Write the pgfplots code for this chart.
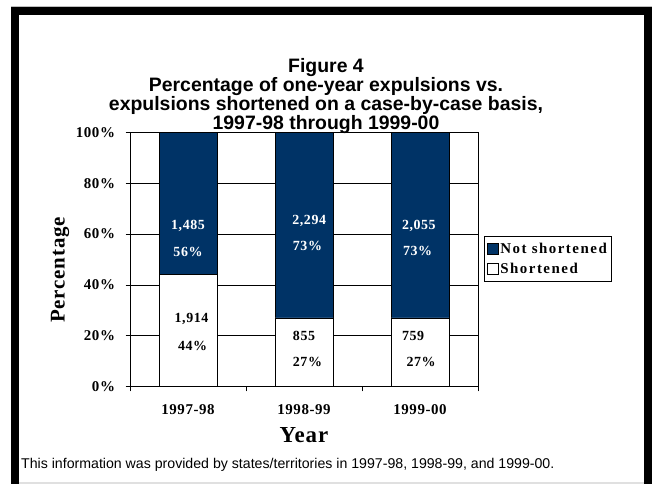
\documentclass[border=0pt]{standalone}
\usepackage{pgfplots}
\pgfplotsset{compat=1.18}
\usepackage{fontspec}
\setmainfont{Liberation Serif}
\newfontfamily\arial{Liberation Sans}
\newfontfamily\spaced[LetterSpace=10]{Liberation Serif}
\newfontfamily\spacedb[LetterSpace=4]{Liberation Serif}
\definecolor{navy}{RGB}{0,51,102}
\tikzset{lab/.style={font=\spacedb\bfseries\fontsize{14}{16}\selectfont, inner sep=0pt},
  ttl/.style={font=\arial\bfseries\fontsize{19.5}{21}\selectfont, anchor=base, inner sep=0pt}}

\begin{document}
\begin{tikzpicture}[x=1bp,y=1bp]
\fill[white] (0,0) rectangle (652,484);
% frame
\fill[black!25] (11,476.5) rectangle (652,478);
\fill[black] (11,469) rectangle (652,477.3);
\fill[black] (11,0) rectangle (19,477.3);
\fill[black] (644,0) rectangle (652,477.3);
\fill[black!12] (19,0) rectangle (644,2);
% title
\node[ttl] at (326,411) {Figure 4};
\node[ttl] at (326,392) {Percentage of one-year expulsions vs.};
\node[ttl] at (326,373) {expulsions shortened on a case-by-case basis,};
\node[ttl] at (326,354) {1997-98 through 1999-00};
% footnote
\node[font=\arial\fontsize{14.2}{16}\selectfont, anchor=base west, inner sep=0pt] at (21,15) {This information was provided by states/territories in 1997-98, 1998-99, and 1999-00.};

\begin{axis}[
  at={(130bp,97.5bp)}, anchor=south west,
  scale only axis, width=348bp, height=254bp,
  ybar stacked, bar width=0.5,
  xmin=-0.5, xmax=2.5, ymin=0, ymax=100,
  xtick={0,1,2}, xticklabels={1997-98,1998-99,1999-00},
  minor xtick={-0.5,0.5,1.5,2.5},
  major x tick style={draw=none},
  ytick={0,20,40,60,80,100},
  yticklabels={0\%,20\%,40\%,60\%,80\%,100\%},
  tick pos=left,
  ymajorgrids, grid style={black, line width=0.6bp},
  tick align=outside, major tick length=4.5bp, minor tick length=5bp,
  tick style={black, line width=0.7bp},
  axis line style={black, line width=0.8bp},
  yticklabel style={font=\spacedb\bfseries\fontsize{15}{17}\selectfont, xshift=-7pt},
  xticklabel style={font=\spacedb\bfseries\fontsize{15}{17}\selectfont, yshift=-10pt},
  xlabel={Year}, ylabel={Percentage},
  xlabel style={font=\spacedb\bfseries\fontsize{23}{26}\selectfont, at={(axis description cs:0.5,-0.219)}, anchor=base},
  ylabel style={font=\spacedb\bfseries\fontsize{21}{24}\selectfont, at={(axis description cs:-0.201,0.459)}, anchor=center},
  reverse legend, legend cell align=left,
  legend style={at={(1.017,0.5925)}, anchor=north west, draw=black, line width=0.6bp,
    font=\spaced\bfseries\fontsize{15}{17}\selectfont, row sep=5bp, inner xsep=3bp, inner ysep=5bp,
    nodes={inner sep=1.5bp}},
  legend image code/.code={\draw[#1, line width=0.6bp] (0bp,-5.5bp) rectangle (11bp,5.5bp);},
]
\addplot[fill=white, draw=black, line width=0.7bp] coordinates {(0,44) (1,27) (2,27)};
\addplot[fill=navy, draw=black, line width=0.7bp] coordinates {(0,56) (1,73) (2,73)};
\legend{Shortened, Not shortened}
\coordinate (a1) at (axis cs:0,63.2);
\coordinate (a2) at (axis cs:0,53.0);
\coordinate (a3) at (axis cs:0.03,26.7);
\coordinate (a4) at (axis cs:0.04,16.1);
\coordinate (b1) at (axis cs:1.045,65.3);
\coordinate (b2) at (axis cs:1.03,55.4);
\coordinate (b3) at (axis cs:1.0,19.9);
\coordinate (b4) at (axis cs:1.03,9.8);
\coordinate (c1) at (axis cs:1.99,63.3);
\coordinate (c2) at (axis cs:1.98,53.4);
\coordinate (c3) at (axis cs:1.94,19.9);
\coordinate (c4) at (axis cs:2.01,9.8);
\end{axis}
\node[lab, white] at (a1) {1,485};
\node[lab, white] at (a2) {56\%};
\node[lab] at (a3) {1,914};
\node[lab] at (a4) {44\%};
\node[lab, white] at (b1) {2,294};
\node[lab, white] at (b2) {73\%};
\node[lab] at (b3) {855};
\node[lab] at (b4) {27\%};
\node[lab, white] at (c1) {2,055};
\node[lab, white] at (c2) {73\%};
\node[lab] at (c3) {759};
\node[lab] at (c4) {27\%};
\end{tikzpicture}
\end{document}
